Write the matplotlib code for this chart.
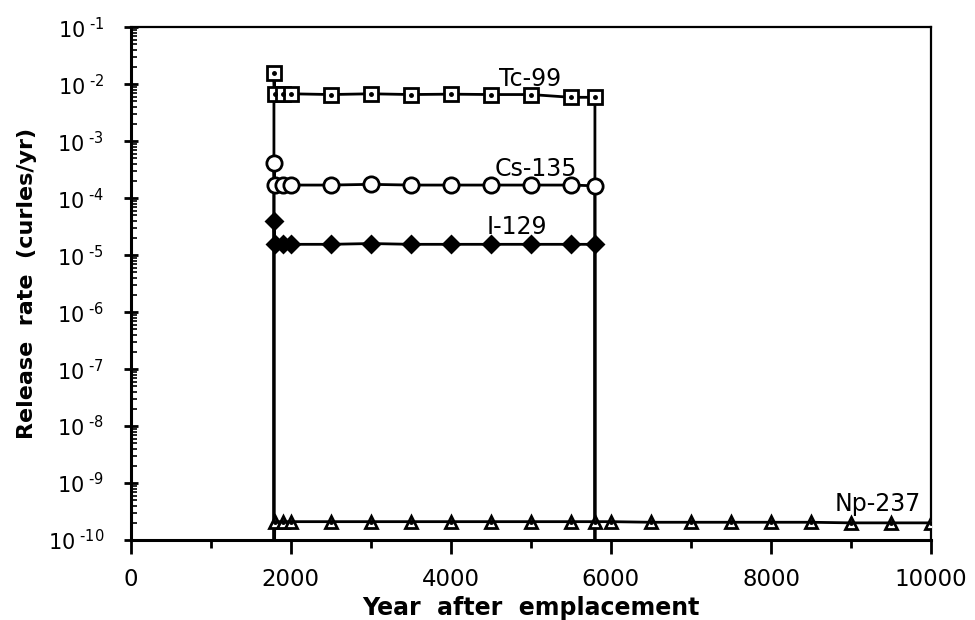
import math
import matplotlib
matplotlib.use('Agg')
import matplotlib.pyplot as plt
from matplotlib.ticker import FixedLocator, FuncFormatter, LogLocator, NullFormatter

plt.rcParams['font.family'] = ['DejaVu Sans']
plt.rcParams['mathtext.fontset'] = 'dejavusans'

# values
years_short = [1800, 1900, 2000, 2500, 3000, 3500, 4000, 4500, 5000, 5500, 5800]
years_long = years_short + [6000, 6500, 7000, 7500, 8000, 8500, 9000, 9500, 10000]

start_year = 1790
stop_year = 5800
floor_val = 1e-12

tc99_peak = 1.6e-2
tc99 = [6.8e-3, 6.8e-3, 6.8e-3, 6.6e-3, 6.8e-3, 6.6e-3, 6.7e-3, 6.6e-3, 6.6e-3, 5.9e-3, 5.9e-3]
cs135_peak = 4.2e-4
cs135 = [1.7e-4, 1.7e-4, 1.7e-4, 1.7e-4, 1.75e-4, 1.7e-4, 1.7e-4, 1.7e-4, 1.7e-4, 1.7e-4, 1.65e-4]
i129_peak = 3.9e-5
i129 = [1.55e-5, 1.55e-5, 1.55e-5, 1.55e-5, 1.6e-5, 1.55e-5, 1.55e-5, 1.55e-5, 1.55e-5, 1.55e-5, 1.55e-5]
np237 = [2.1e-10] * 11 + [2.1e-10, 2.05e-10, 2.05e-10, 2.05e-10, 2.05e-10, 2.05e-10, 2.0e-10, 2.0e-10, 2.0e-10]

labels = ['Tc-99', 'Cs-135', 'I-129', 'Np-237']
label_pos = [(4600, 1.25e-2), (4550, 3.3e-4), (4450, 3.1e-5), (8800, 4.3e-10)]

fig = plt.figure(figsize=(9.75, 6.2), dpi=100)
ax = fig.add_axes([0.134, 0.129, 0.821, 0.827])
ax.set_yscale('log')


def pulse(peak, vals, marker, face, size):
    xs = [start_year, start_year] + years_short + [stop_year]
    ys = [floor_val, peak] + vals + [floor_val]
    ax.plot(xs, ys, color='black', lw=2, zorder=2)
    ax.plot(xs[1:-1], ys[1:-1], ls='none', marker=marker, ms=size,
            mfc=face, mec='black', mew=2, zorder=3)
    return xs[1:-1], ys[1:-1]


tx, ty = pulse(tc99_peak, tc99, 's', 'white', 10)
ax.plot(tx, ty, ls='none', marker='o', ms=2.5, color='black', zorder=4)
pulse(cs135_peak, cs135, 'o', 'white', 11)
pulse(i129_peak, i129, 'D', 'black', 8)

nx = [start_year] + years_long
ny = [floor_val] + np237
ax.plot(nx, ny, color='black', lw=2, zorder=2)
ax.plot(years_long, np237, ls='none', marker='^', ms=9, mfc='white',
        mec='black', mew=2, zorder=3)
ax.plot(years_long, np237, ls='none', marker='o', ms=2.5, color='black', zorder=4)

for lab, (lx, ly) in zip(labels, label_pos):
    ax.text(lx, ly, lab, fontsize=17, ha='left', va='center')

ax.set_xlim(0, 10000)
ax.set_ylim(1e-10, 1e-1)

ax.xaxis.set_major_locator(FixedLocator([0, 2000, 4000, 6000, 8000, 10000]))
ax.xaxis.set_minor_locator(FixedLocator([1000, 3000, 5000, 7000, 9000]))
ax.yaxis.set_major_locator(LogLocator(base=10, numticks=20))
ax.yaxis.set_minor_locator(LogLocator(base=10, subs=range(2, 10), numticks=20))
ax.yaxis.set_minor_formatter(NullFormatter())
ax.yaxis.set_major_formatter(FuncFormatter(
    lambda v, p: '10$^{\\ \\mathregular{\u2010%d}}$' % abs(round(math.log10(v)))))

ax.tick_params(axis='x', which='major', direction='out', length=10, width=2,
               labelsize=16.5, pad=10)
ax.tick_params(axis='x', which='minor', direction='out', length=6, width=2)
ax.tick_params(axis='y', which='major', direction='inout', length=10, width=2,
               labelsize=15, pad=14)
ax.tick_params(axis='y', which='minor', direction='in', length=4, width=1.2)

for side in ['left', 'bottom']:
    ax.spines[side].set_linewidth(2.2)
for side in ['top', 'right']:
    ax.spines[side].set_linewidth(1.6)

ax.set_xlabel('Year  after  emplacement', fontsize=17, fontweight='bold', labelpad=4)
ax.set_ylabel('Release  rate  (curles/yr)', fontsize=16, fontweight='bold', labelpad=8)

fig.savefig('out.png', dpi=100)
